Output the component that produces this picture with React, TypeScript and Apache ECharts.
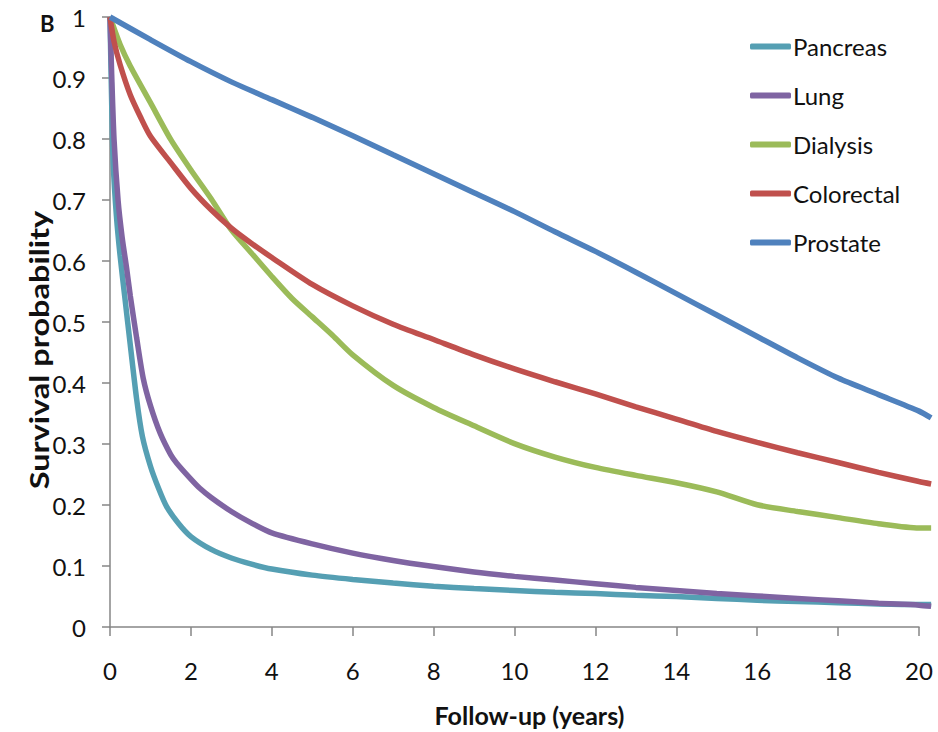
import React, { useEffect, useRef } from "react";
import * as echarts from "echarts";

const seriesNames = ["Pancreas", "Lung", "Dialysis", "Colorectal", "Prostate"];
const seriesColors = ["#559FB3", "#7F64A2", "#9BBB59", "#C0504D", "#4F81BD"];

const pancreasX = [0, 0.04, 0.08, 0.16, 0.25, 0.37, 0.5, 0.66, 0.8, 1, 1.2, 1.4, 1.7, 2, 2.5, 3, 3.5, 4, 5, 6, 7, 8, 9, 10, 11, 12, 13, 14, 15, 16, 17, 18, 19, 20, 20.3];
const pancreasY = [1, 0.865, 0.76, 0.674, 0.61, 0.54, 0.465, 0.375, 0.315, 0.266, 0.23, 0.2, 0.172, 0.151, 0.13, 0.116, 0.106, 0.098, 0.088, 0.081, 0.075, 0.07, 0.066, 0.063, 0.06, 0.058, 0.055, 0.053, 0.05, 0.047, 0.045, 0.043, 0.041, 0.04, 0.04];

const lungX = [0, 0.04, 0.1, 0.2, 0.3, 0.41, 0.5, 0.66, 0.82, 1, 1.24, 1.5, 1.65, 2, 2.22, 2.5, 3, 3.5, 4, 5, 6, 7, 8, 9, 10, 11, 12, 13, 14, 15, 16, 17, 18, 19, 20, 20.3];
const lungY = [1, 0.91, 0.8, 0.7, 0.64, 0.59, 0.545, 0.475, 0.41, 0.365, 0.32, 0.285, 0.271, 0.245, 0.23, 0.215, 0.192, 0.173, 0.157, 0.139, 0.124, 0.112, 0.102, 0.093, 0.086, 0.08, 0.074, 0.068, 0.063, 0.058, 0.054, 0.05, 0.046, 0.042, 0.039, 0.037];

const dialysisX = [0, 0.25, 0.5, 1, 1.5, 2, 2.5, 3, 3.5, 4, 4.5, 5, 5.5, 6, 7, 8, 9, 10, 11, 12, 13, 14, 15, 16, 17, 18, 19, 20, 20.3];
const dialysisY = [1, 0.955, 0.92, 0.86, 0.8, 0.75, 0.703, 0.652, 0.614, 0.576, 0.54, 0.51, 0.48, 0.448, 0.398, 0.362, 0.332, 0.303, 0.281, 0.264, 0.251, 0.239, 0.224, 0.203, 0.192, 0.182, 0.172, 0.165, 0.165];

const colorectalX = [0, 0.1, 0.25, 0.5, 0.75, 1, 1.5, 2, 2.5, 3, 3.5, 4, 5, 6, 7, 8, 9, 10, 11, 12, 13, 14, 15, 16, 17, 18, 19, 20, 20.3];
const colorectalY = [1, 0.96, 0.922, 0.873, 0.837, 0.805, 0.762, 0.72, 0.685, 0.655, 0.63, 0.607, 0.563, 0.528, 0.498, 0.473, 0.448, 0.425, 0.404, 0.384, 0.363, 0.343, 0.323, 0.305, 0.288, 0.272, 0.256, 0.241, 0.237];

const prostateX = [0, 1, 2, 3, 4, 5, 6, 7, 8, 9, 10, 11, 12, 13, 14, 15, 16, 17, 18, 19, 20, 20.3];
const prostateY = [1, 0.963, 0.927, 0.894, 0.865, 0.836, 0.806, 0.775, 0.744, 0.713, 0.682, 0.649, 0.617, 0.583, 0.548, 0.513, 0.478, 0.443, 0.41, 0.383, 0.356, 0.345];

const xTicks = { min: 0, max: 20, interval: 2 };
const xDataMax = 20.3;
const yTicks = { min: 0, max: 1, interval: 0.1 };

const xAxisTitle = "Follow-up (years)";
const yAxisTitle = "Survival probability";
const panelLabel = "B";

const FONT = "Lato, 'Open Sans', sans-serif";
const TEXT = "#111111";
const AXIS = "#868686";

function zip(xs: number[], ys: number[]) {
  return xs.map((x, i) => [x, ys[i]]);
}

export default function App() {
  const ref = useRef<HTMLDivElement>(null);
  useEffect(() => {
    document.body.style.margin = "0";
    if (!ref.current) return;
    const chart = echarts.init(ref.current, undefined, { renderer: "svg" });
    const data = [
      zip(pancreasX, pancreasY),
      zip(lungX, lungY),
      zip(dialysisX, dialysisY),
      zip(colorectalX, colorectalY),
      zip(prostateX, prostateY),
    ];
    const W = 938;
    const gridLeft = 110;
    const gridRight = 19;
    const pxPerYear = (W - gridLeft - gridRight) / (xTicks.max - xTicks.min);
    const dataRight = W - gridLeft - pxPerYear * (xDataMax - xTicks.min);
    chart.setOption({
      animation: false,
      backgroundColor: "#ffffff",
      grid: [
        { left: gridLeft, right: gridRight, top: 17, bottom: 103 },
        { left: gridLeft, right: dataRight, top: 17, bottom: 103 },
      ],
      legend: {
        orient: "vertical",
        left: 745,
        top: 29,
        itemWidth: 41,
        itemHeight: 6,
        itemGap: 24,
        icon: "roundRect",
        data: seriesNames,
        textStyle: { fontFamily: FONT, fontSize: 24, color: TEXT, lineHeight: 25, padding: [0, 0, 0, -3] },
      },
      xAxis: [
        {
          type: "value",
          gridIndex: 0,
          min: xTicks.min,
          max: xTicks.max,
          interval: xTicks.interval,
          splitLine: { show: false },
          axisLine: { show: true, lineStyle: { color: AXIS, width: 1.5 } },
          axisTick: { show: true, length: 9, lineStyle: { color: AXIS, width: 1.5 } },
          axisLabel: { fontFamily: FONT, fontSize: 24, color: TEXT, margin: 31 },
          name: xAxisTitle,
          nameLocation: "middle",
          nameGap: 75,
          nameTextStyle: { fontFamily: FONT, fontSize: 25, fontWeight: "bold", color: TEXT, padding: [0, 0, 0, 30] },
        },
        {
          type: "value",
          gridIndex: 1,
          min: xTicks.min,
          max: xDataMax,
          show: false,
        },
      ],
      yAxis: [
        {
          type: "value",
          gridIndex: 0,
          min: yTicks.min,
          max: yTicks.max,
          interval: yTicks.interval,
          splitLine: { show: false },
          axisLine: { show: true, lineStyle: { color: AXIS, width: 1.5 } },
          axisTick: { show: true, length: 8, lineStyle: { color: AXIS, width: 1.5 } },
          axisLabel: {
            fontFamily: FONT,
            fontSize: 24,
            color: TEXT,
            margin: 24,
            formatter: (v: number) => String(Math.round(v * 10) / 10),
          },
        },
        {
          type: "value",
          gridIndex: 1,
          min: yTicks.min,
          max: yTicks.max,
          show: false,
        },
      ],
      graphic: [
        {
          type: "text",
          left: 40,
          top: 12,
          style: { text: panelLabel, fontFamily: FONT, fontSize: 22, fontWeight: "bold", fill: TEXT },
        },
        {
          type: "text",
          x: 39,
          y: 350,
          rotation: Math.PI / 2,
          scaleX: 1.25,
          style: {
            text: yAxisTitle,
            fontFamily: FONT,
            fontSize: 26,
            fontWeight: "bold",
            fill: TEXT,
            align: "center",
            verticalAlign: "middle",
          },
        },
      ],
      series: seriesNames.map((name, i) => ({
        name,
        type: "line",
        xAxisIndex: 1,
        yAxisIndex: 1,
        data: data[i],
        symbol: "none",
        showSymbol: false,
        clip: false,
        smooth: 0.25,
        color: seriesColors[i],
        lineStyle: { width: 5.5, color: seriesColors[i] },
        z: 2 + i,
      })),
    });
    return () => chart.dispose();
  }, []);
  return <div ref={ref} style={{ width: 938, height: 732 }} />;
}
